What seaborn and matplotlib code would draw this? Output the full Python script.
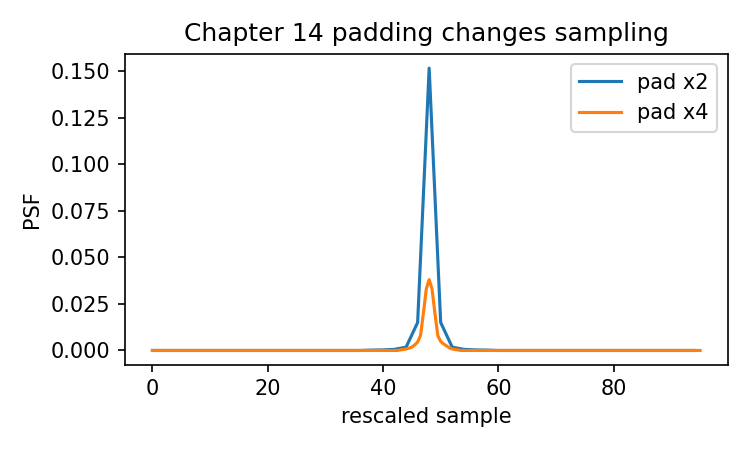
import numpy as np
import pandas as pd
import matplotlib
matplotlib.use("Agg")
import matplotlib.pyplot as plt
import seaborn as sns

# pad x2: 48 samples, rescaled by 2 (x = 0, 2, ..., 94)
x_pad2 = list(range(0, 96, 2))
psf_pad2 = [0.0] * 48
psf_pad2[19] = 0.0002
psf_pad2[20] = 0.0003
psf_pad2[21] = 0.0006
psf_pad2[22] = 0.0018
psf_pad2[23] = 0.0150
psf_pad2[24] = 0.1515
psf_pad2[25] = 0.0150
psf_pad2[26] = 0.0018
psf_pad2[27] = 0.0006
psf_pad2[28] = 0.0003
psf_pad2[29] = 0.0002

# pad x4: finer sampling (x = 0, 0.5, ..., 95)
x_pad4 = [i * 0.5 for i in range(191)]
psf_pad4 = [0.0] * 191
# values around the peak (sample x -> psf)
peak_pad4 = {
    43.0: 0.0003, 43.5: 0.0005, 44.0: 0.0008, 44.5: 0.0012, 45.0: 0.0018,
    45.5: 0.0030, 46.0: 0.0045, 46.5: 0.0080, 47.0: 0.0200, 47.5: 0.0330,
    48.0: 0.0380, 48.5: 0.0330, 49.0: 0.0200, 49.5: 0.0080, 50.0: 0.0048,
    50.5: 0.0035, 51.0: 0.0025, 51.5: 0.0014, 52.0: 0.0008, 52.5: 0.0005,
    53.0: 0.0003,
}
for xv, pv in peak_pad4.items():
    psf_pad4[int(xv * 2)] = pv

df = pd.concat([
    pd.DataFrame({"sample": x_pad2, "psf": psf_pad2, "series": "pad x2"}),
    pd.DataFrame({"sample": x_pad4, "psf": psf_pad4, "series": "pad x4"}),
])

fig, ax = plt.subplots(figsize=(5, 3), dpi=150)
sns.lineplot(data=df, x="sample", y="psf", hue="series", ax=ax,
             palette=["#1f77b4", "#ff7f0e"])
ax.set_title("Chapter 14 padding changes sampling")
ax.set_xlabel("rescaled sample")
ax.set_ylabel("PSF")
ax.legend(title=None, loc="upper right")
fig.tight_layout()
fig.savefig("out.png")
